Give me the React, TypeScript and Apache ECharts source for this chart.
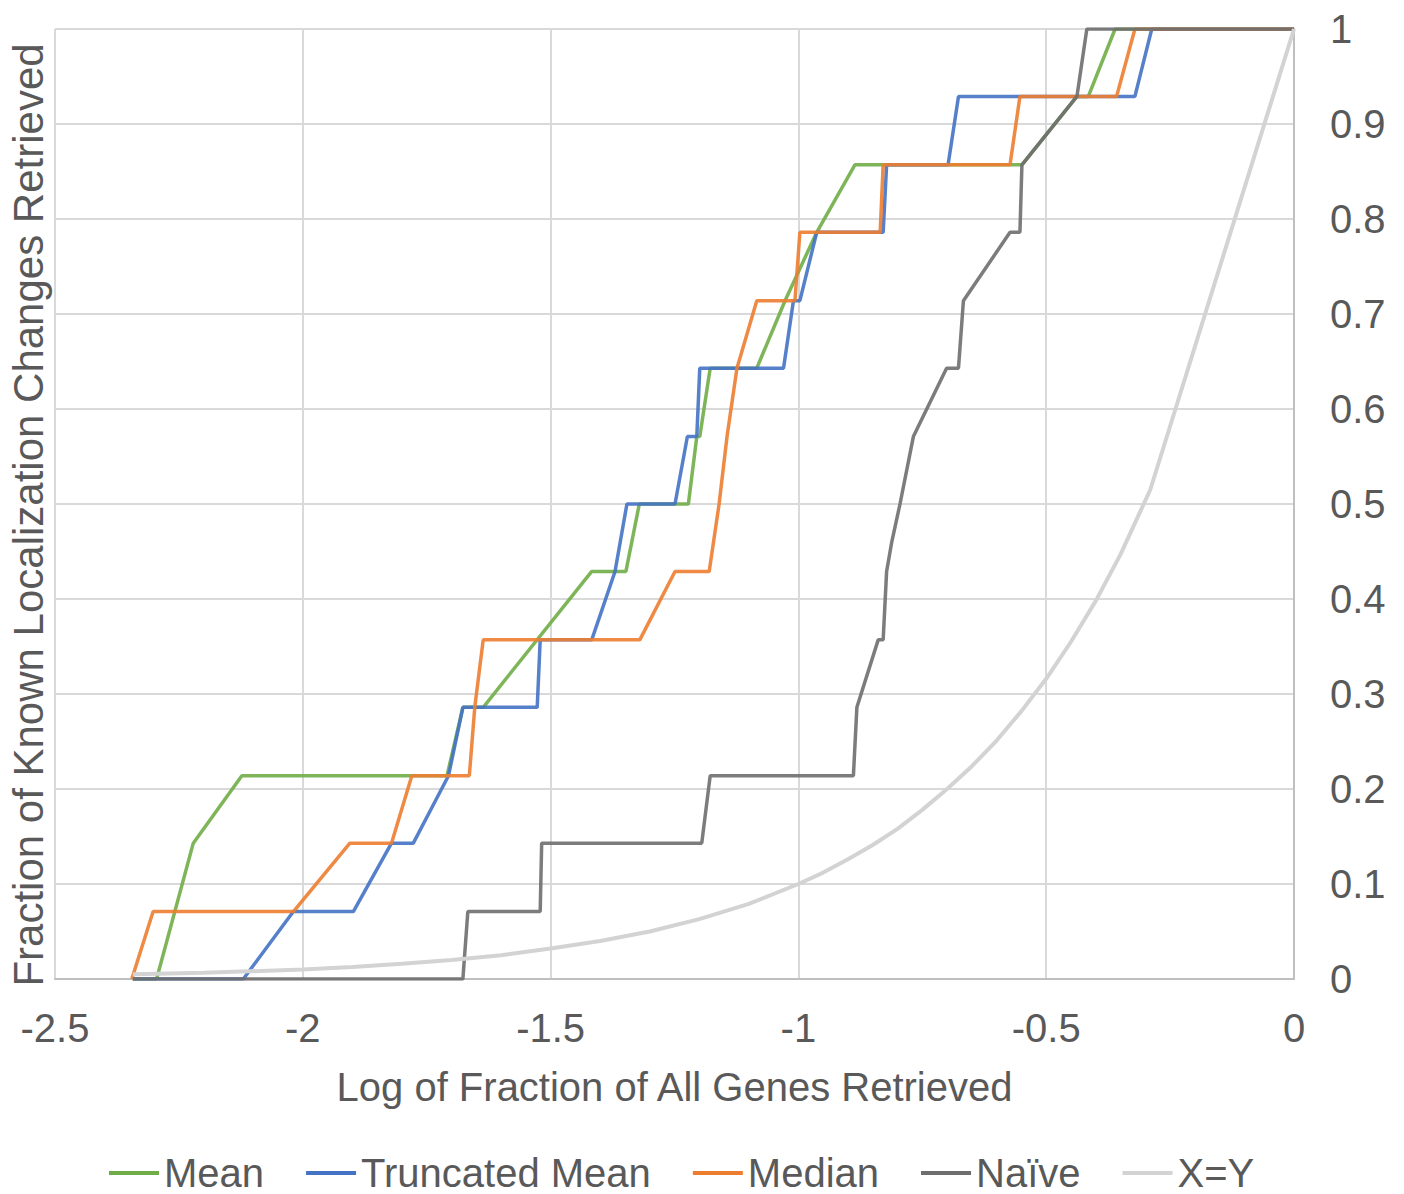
import React, { useEffect, useRef } from "react";
import * as echarts from "echarts";

const seriesNames = ["Mean", "Truncated Mean", "Median", "Naïve", "X=Y"];
const seriesColors = ["#70AD47", "#4472C4", "#ED7D31", "#6E6E6E", "#D3D3D3"];

const xTicks = { min: -2.5, max: 0, interval: 0.5 };
const yTicks = { min: 0, max: 1, interval: 0.1 };

const meanData: [number, number][] = [
  [-2.343, 0], [-2.295, 0], [-2.221, 0.143], [-2.123, 0.214], [-1.709, 0.214],
  [-1.677, 0.286], [-1.636, 0.286], [-1.417, 0.429], [-1.348, 0.429], [-1.321, 0.5],
  [-1.222, 0.5], [-1.205, 0.571], [-1.199, 0.571], [-1.178, 0.643], [-1.084, 0.643],
  [-1.027, 0.714], [-0.963, 0.786], [-0.886, 0.857], [-0.549, 0.857], [-0.438, 0.929],
  [-0.415, 0.929], [-0.361, 1], [0, 1],
];

const truncatedMeanData: [number, number][] = [
  [-2.343, 0], [-2.12, 0], [-2.019, 0.071], [-1.898, 0.071], [-1.821, 0.143],
  [-1.777, 0.143], [-1.74, 0.18], [-1.706, 0.214], [-1.677, 0.286], [-1.527, 0.286],
  [-1.521, 0.357], [-1.417, 0.357], [-1.37, 0.429], [-1.346, 0.5], [-1.249, 0.5],
  [-1.224, 0.571], [-1.205, 0.571], [-1.199, 0.643], [-1.03, 0.643], [-1.01, 0.714],
  [-0.997, 0.714], [-0.963, 0.786], [-0.829, 0.786], [-0.822, 0.857], [-0.698, 0.857],
  [-0.677, 0.929], [-0.321, 0.929], [-0.287, 1], [0, 1],
];

const medianData: [number, number][] = [
  [-2.345, 0], [-2.302, 0.071], [-2.019, 0.071], [-1.905, 0.143], [-1.821, 0.143],
  [-1.78, 0.214], [-1.664, 0.214], [-1.653, 0.286], [-1.636, 0.357], [-1.32, 0.357],
  [-1.249, 0.429], [-1.18, 0.429], [-1.16, 0.5], [-1.144, 0.571], [-1.124, 0.643],
  [-1.084, 0.714], [-1.007, 0.714], [-0.997, 0.786], [-0.835, 0.786], [-0.829, 0.857],
  [-0.573, 0.857], [-0.553, 0.929], [-0.358, 0.929], [-0.321, 1], [0, 1],
];

const naiveData: [number, number][] = [
  [-2.343, 0], [-1.677, 0], [-1.667, 0.071], [-1.521, 0.071], [-1.518, 0.143],
  [-1.195, 0.143], [-1.178, 0.214], [-0.889, 0.214], [-0.882, 0.286], [-0.839, 0.357],
  [-0.829, 0.357], [-0.822, 0.429], [-0.812, 0.459], [-0.795, 0.5], [-0.768, 0.571],
  [-0.701, 0.643], [-0.677, 0.643], [-0.667, 0.714], [-0.573, 0.786], [-0.553, 0.786],
  [-0.549, 0.857], [-0.438, 0.929], [-0.418, 1], [0, 1],
];

const xyData: [number, number][] = [
  [-2.343, 0.005], [-2.2, 0.0065], [-2.0, 0.01], [-1.9, 0.0126], [-1.8, 0.016],
  [-1.7, 0.02], [-1.6, 0.025], [-1.5, 0.032], [-1.4, 0.04], [-1.3, 0.05],
  [-1.2, 0.063], [-1.1, 0.079], [-1.0, 0.1], [-0.95, 0.112], [-0.9, 0.126],
  [-0.85, 0.141], [-0.8, 0.158], [-0.75, 0.178], [-0.7, 0.2], [-0.65, 0.224],
  [-0.6, 0.251], [-0.55, 0.282], [-0.5, 0.316], [-0.45, 0.355], [-0.4, 0.398],
  [-0.35, 0.447], [-0.29, 0.515], [0, 1],
];

const allData = [meanData, truncatedMeanData, medianData, naiveData, xyData];

const TEXT = "#595959";
const FONT = "Liberation Sans, Arial, sans-serif";

export default function App() {
  const ref = useRef<HTMLDivElement>(null);
  useEffect(() => {
    if (!ref.current) return;
    const chart = echarts.init(ref.current, undefined, { renderer: "svg" });
    chart.setOption({
      animation: false,
      backgroundColor: "#ffffff",
      textStyle: { fontFamily: FONT },
      grid: { left: 55, right: 110, top: 29, bottom: 215, containLabel: false },
      xAxis: {
        type: "value",
        min: xTicks.min,
        max: xTicks.max,
        interval: xTicks.interval,
        name: "Log of Fraction of All Genes Retrieved",
        nameLocation: "middle",
        nameGap: 88,
        nameTextStyle: { color: TEXT, fontSize: 40, fontFamily: FONT },
        axisLine: { show: true, onZero: false, lineStyle: { color: "#BFBFBF", width: 2 } },
        axisTick: { show: false },
        axisLabel: { color: TEXT, fontSize: 40, margin: 29, fontFamily: FONT },
        splitLine: { show: true, lineStyle: { color: "#D9D9D9", width: 2 } },
      },
      yAxis: {
        type: "value",
        position: "right",
        min: yTicks.min,
        max: yTicks.max,
        interval: yTicks.interval,
        axisLine: { show: true, onZero: false, lineStyle: { color: "#BFBFBF", width: 2 } },
        axisTick: { show: false },
        axisLabel: { color: TEXT, fontSize: 40, margin: 36, fontFamily: FONT },
        splitLine: { show: true, lineStyle: { color: "#D9D9D9", width: 2 } },
      },
      legend: {
        left: 104,
        bottom: -4,
        itemWidth: 50,
        itemHeight: 4,
        itemGap: 42,
        icon: "rect",
        textStyle: { color: TEXT, fontSize: 40, fontFamily: FONT, padding: [0, 0, 0, 0] },
        data: seriesNames,
      },
      graphic: [
        {
          type: "text",
          x: 28,
          y: 515,
          rotation: Math.PI / 2,
          style: {
            text: "Fraction of Known Localization Changes Retrieved",
            fill: TEXT,
            fontSize: 42,
            fontFamily: FONT,
            align: "center",
            verticalAlign: "middle",
          },
        },
      ],
      series: seriesNames.map((name, i) => ({
        name,
        type: "line",
        data: allData[i],
        showSymbol: false,
        symbol: "none",
        color: seriesColors[i],
        lineStyle: { color: seriesColors[i], width: i === 4 ? 4 : 3.5, opacity: i === 4 ? 1 : 0.9 },
        z: 2 + i,
      })),
    });
    return () => chart.dispose();
  }, []);
  return <div ref={ref} style={{ position: "fixed", left: 0, top: 0, width: 1404, height: 1194 }} />;
}
